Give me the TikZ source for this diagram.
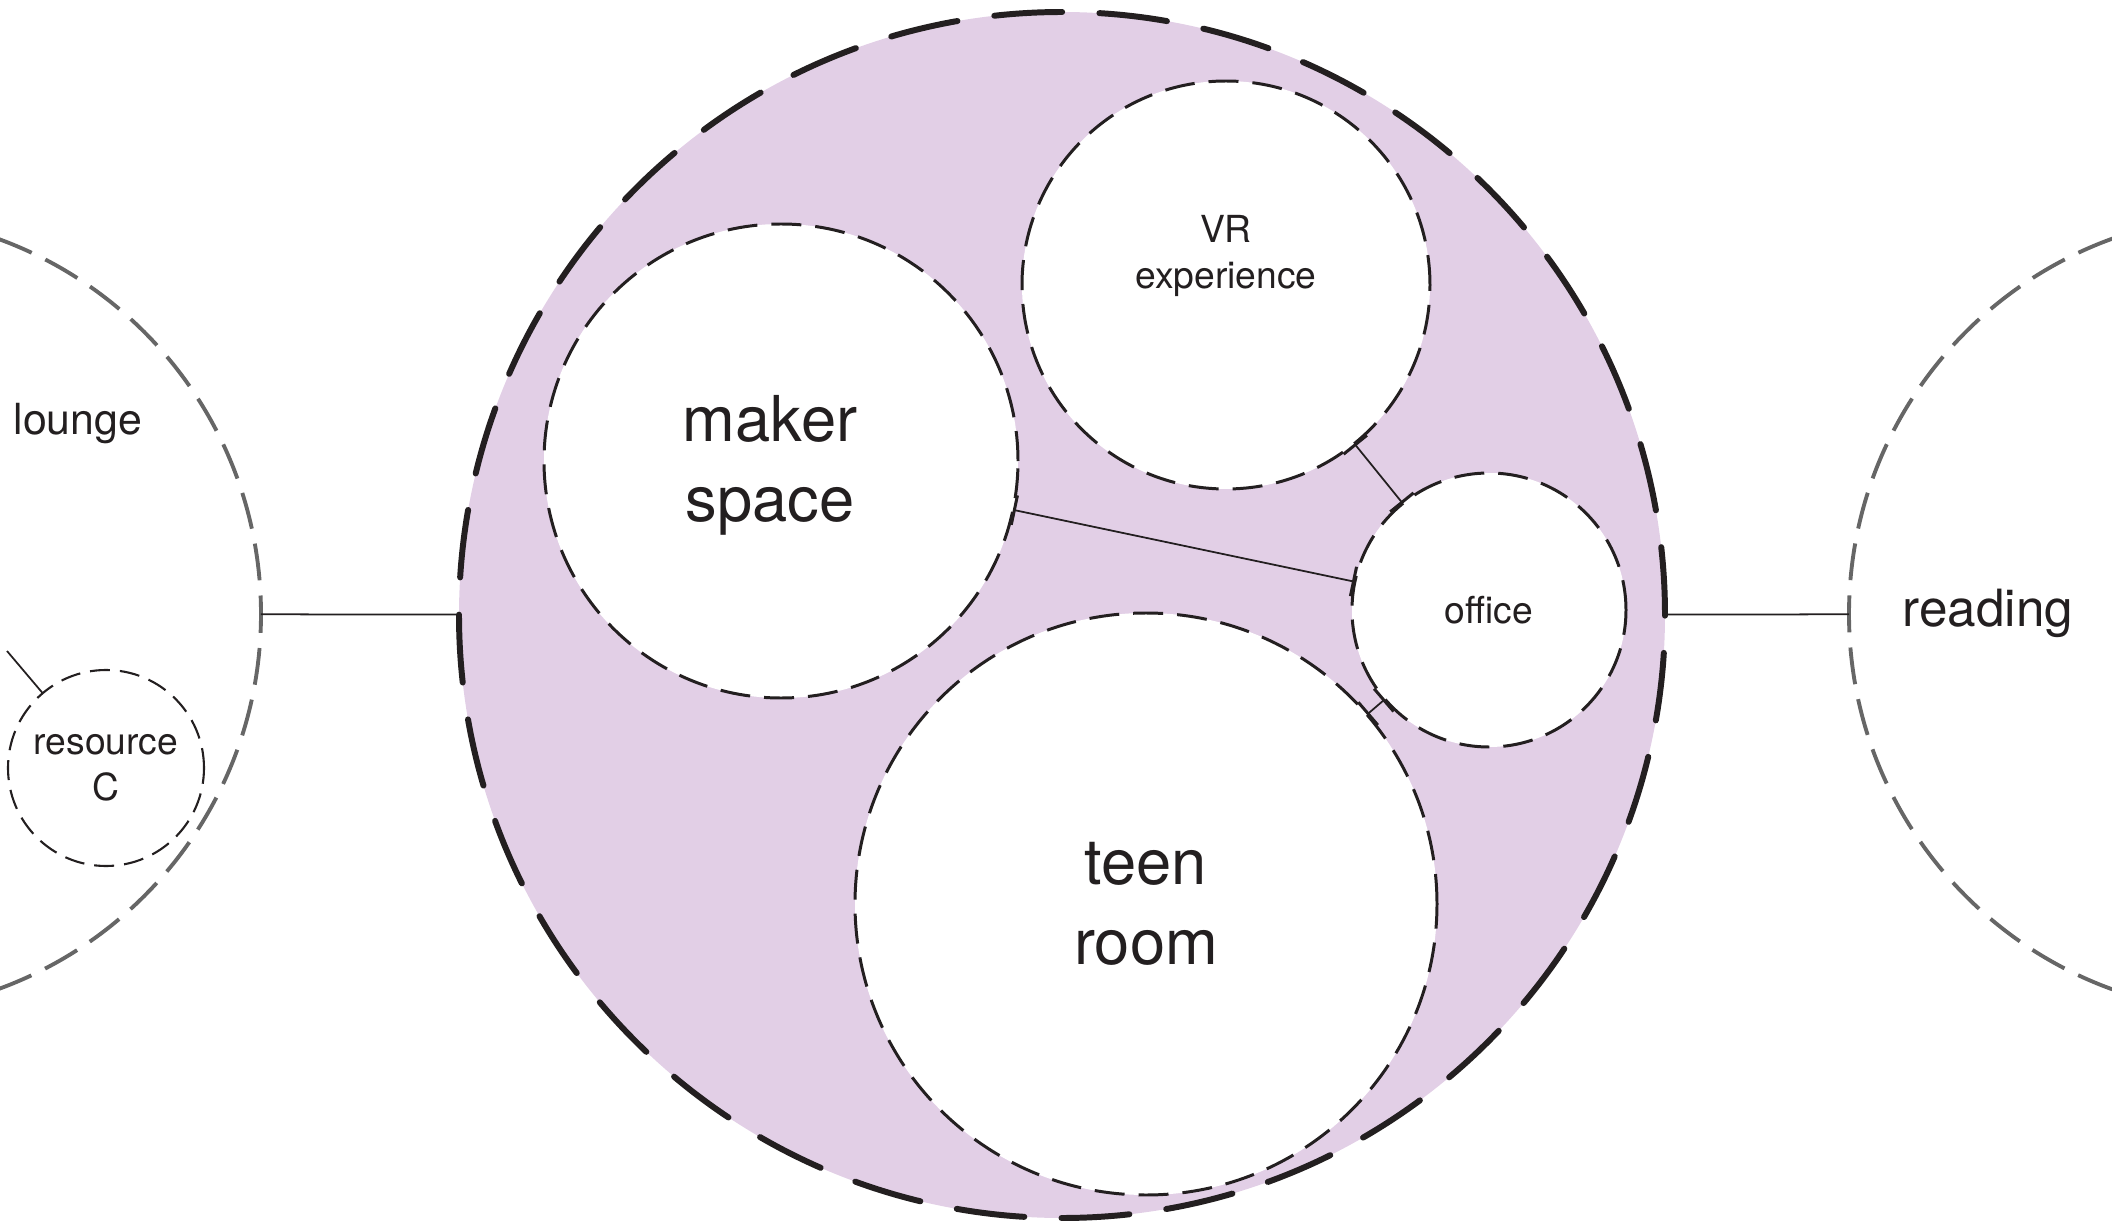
\documentclass[tikz,border=0pt]{standalone}
\usepackage{fontspec}
\setmainfont{TeX Gyre Heros}
\usetikzlibrary{arrows.meta}
\definecolor{zonefill}{HTML}{E2CFE6}
\definecolor{ink}{HTML}{231F20}
\definecolor{outergray}{HTML}{666666}
\begin{document}
\begin{tikzpicture}[
    zone/.style={circle, draw=ink, fill=zonefill, line width=1.7pt, line cap=round,
      dash pattern=on 0.68cm off 0.3724cm, inner sep=0pt, outer sep=0pt},
    room/.style={circle, draw=ink, fill=white, line width=0.85pt,
      dash pattern=on 0.3cm off 0.14cm, inner sep=0pt, outer sep=0pt},
    nook/.style={circle, draw=ink, line width=0.6pt,
      dash pattern=on 0.2cm off 0.1cm, inner sep=0pt, outer sep=0pt},
    nearby/.style={circle, draw=outergray, line width=1.1pt,
      dash pattern=on 0.37cm off 0.1523cm, dash phase=0.185cm,
      inner sep=0pt, outer sep=0pt, minimum size=7.98cm},
    link/.style={draw=ink, line width=0.5pt},
    tick/.style={link, {Bar[width=0.3cm, line width=0.85pt]}-{Bar[width=0.3cm, line width=0.85pt]}},
    bigtext/.style={text=ink, font=\fontsize{18}{22.7}\selectfont, align=center, inner sep=0pt},
    smalltext/.style={text=ink, font=\fontsize{10.6}{13.2}\selectfont, align=center, inner sep=0pt},
  ]
    \useasboundingbox (0,0) rectangle (21.12,12.2);
    % neighbouring areas
    \node[nearby] (lounge) at (-1.38, 6.06) {};
    \node[nearby] (reading) at (22.48, 6.06) {};
    \node[text=ink, font=\fontsize{12.2}{14}\selectfont, inner sep=0pt] (loungetxt) at (0.78, 7.96) {lounge};
    \node[text=ink, font=\fontsize{14.6}{17}\selectfont, inner sep=0pt] (readingtxt) at (19.88, 6.07) {reading};
    % resource C
    \node[nook, minimum size=1.96cm] (resource) at (1.06, 4.52) {};
    \node[smalltext] (resourcetxt) at (resource.center) {resource\\C};
    \coordinate (resourceend) at (0.07, 5.69);
    \draw[link] (resource) -- (resourceend);
    % main zone
    \node[zone, minimum size=12.06cm] (zone) at (10.62, 6.05) {};
    \draw[link] (zone) -- (lounge);
    \draw[link] (zone) -- (reading);
    % rooms inside
    \node[room, minimum size=4.74cm] (maker) at (7.81, 7.59) {};
    \node[room, minimum size=4.08cm] (vr) at (12.26, 9.35) {};
    \node[room, minimum size=2.74cm] (office) at (14.89, 6.10) {};
    \node[room, minimum size=5.82cm] (teen) at (11.46, 3.16) {};
    \node[bigtext] (makertxt) at ([xshift=-0.11cm, yshift=-0.04cm]maker.center) {maker\\space};
    \node[smalltext] (vrtxt) at ([yshift=0.29cm]vr.center) {VR\\experience};
    \node[smalltext] (officetxt) at (office.center) {office};
    \node[bigtext] (teentxt) at (teen.center) {teen\\room};
    % links to the office
    \draw[tick] (maker) -- (office);
    \draw[tick] (vr) -- (office);
    \draw[tick] (teen) -- (office);
\end{tikzpicture}
\end{document}
